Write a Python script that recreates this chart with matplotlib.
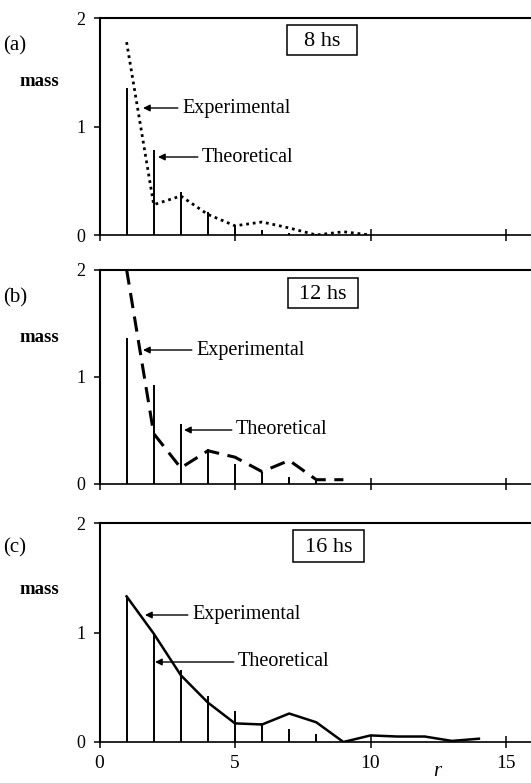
import matplotlib as mpl
mpl.use("Agg")
import matplotlib.pyplot as plt
from matplotlib.patches import Rectangle
import numpy as np

plt.rcParams['font.family'] = ['Liberation Serif', 'DejaVu Serif']

# theoretical (stems) and experimental (line) mass vs r for each time
theo_a = [1.36, 0.78, 0.40, 0.21, 0.095, 0.045, 0.02, 0.01]
expt_a = [1.78, 0.28, 0.36, 0.19, 0.085, 0.12, 0.065, 0.0, 0.03, 0.0]

theo_b = [1.36, 0.92, 0.56, 0.33, 0.19, 0.115, 0.065, 0.03]
expt_b = [2.0, 0.47, 0.15, 0.31, 0.25, 0.115, 0.22, 0.04, 0.04]

theo_c = [1.33, 0.99, 0.66, 0.42, 0.28, 0.17, 0.12, 0.07]
expt_c = [1.33, 0.99, 0.61, 0.36, 0.17, 0.16, 0.26, 0.18, 0.0, 0.06, 0.05, 0.05, 0.01, 0.03]

panel_tags = ["(a)", "(b)", "(c)"]
hours = ["8 hs", "12 hs", "16 hs"]
xticks = [0, 5, 10, 15]
yticks = [0, 1, 2]

W, H = 531, 783
fig = plt.figure(figsize=(W / 100, H / 100), dpi=100)


def ff(px, py):
    # pixel position (top-left origin) -> figure fraction
    return px / W, 1 - py / H


left = 99.5 / W
width = 16 * 27.1 / W
# (top px, bottom px) of each panel
rows = [(18.3, 235.0), (269.5, 484.0), (523.0, 742.0)]

panels = [
    (theo_a, expt_a, dict(linestyle=(0, (1, 1.4)), lw=2.0)),
    (theo_b, expt_b, dict(linestyle=(0, (5, 2.8)), lw=2.2)),
    (theo_c, expt_c, dict(linestyle='-', lw=1.8)),
]

# label positions in pixels: tag, mass, box (x0, y0, x1, y1), (exp text, tip), (theo text, tip)
label_px = [
    dict(tag=(15, 46), mass=(39, 81), box=(287, 25, 357, 55),
         exp=((182, 108), (143, 108)), theo=((202, 157), (158, 157))),
    dict(tag=(15, 298), mass=(39, 337), box=(288, 278, 358, 308),
         exp=((196, 350), (143, 350)), theo=((236, 430), (184, 430))),
    dict(tag=(15, 548), mass=(39, 590), box=(293, 530, 364, 562),
         exp=((192, 615), (145, 615)), theo=((238, 662), (155, 662))),
]

for k, (theo, expt, style) in enumerate(panels):
    top, bot = rows[k]
    ax = fig.add_axes([left, 1 - bot / H, width, (bot - top) / H])
    rt = np.arange(1, len(theo) + 1)
    re = np.arange(1, len(expt) + 1)
    ax.vlines(rt, 0, theo, color='black', lw=1.4)
    ax.plot(re, expt, color='black', **style)

    ax.set_xlim(0, 16)
    ax.set_ylim(0, 2)
    ax.set_xticks(xticks)
    ax.set_yticks(yticks)
    ax.spines['right'].set_visible(False)
    ax.spines['top'].set_linewidth(1.5)
    ax.spines['left'].set_linewidth(1.5)
    ax.spines['bottom'].set_linewidth(1.2)
    ax.tick_params(axis='x', direction='inout', length=8, width=1.1, labelsize=14, pad=5)
    ax.tick_params(axis='y', direction='out', length=4, width=1.1, labelsize=13, pad=6)
    if k < 2:
        ax.set_xticklabels([])

    lp = label_px[k]
    fig.text(*ff(*lp['tag']), panel_tags[k], fontsize=15, ha='center', va='center')
    fig.text(*ff(*lp['mass']), "mass", fontsize=13.5, ha='center', va='center', fontweight='semibold')
    x0, y0, x1, y1 = lp['box']
    fx0, fy1 = ff(x0, y1)
    fig.patches.append(Rectangle((fx0, fy1), (x1 - x0) / W, (y1 - y0) / H,
                                 transform=fig.transFigure, facecolor='white',
                                 edgecolor='black', lw=1.1, zorder=3))
    fig.text(*ff((x0 + x1) / 2, (y0 + y1) / 2 + 1), hours[k], fontsize=16,
             ha='center', va='center', zorder=4)
    for name, key in [("Experimental", 'exp'), ("Theoretical", 'theo')]:
        txt, tip = lp[key]
        ax.annotate(name, xy=ff(*tip), xycoords='figure fraction',
                    xytext=ff(*txt), textcoords='figure fraction',
                    fontsize=14.5, ha='left', va='center',
                    arrowprops=dict(arrowstyle='-|>', color='black', lw=1.0,
                                    mutation_scale=10, shrinkA=1, shrinkB=0))

fig.text(*ff(437, 772), "r", fontsize=15, style='italic', ha='center', va='center')

fig.savefig("out.png", dpi=100)
